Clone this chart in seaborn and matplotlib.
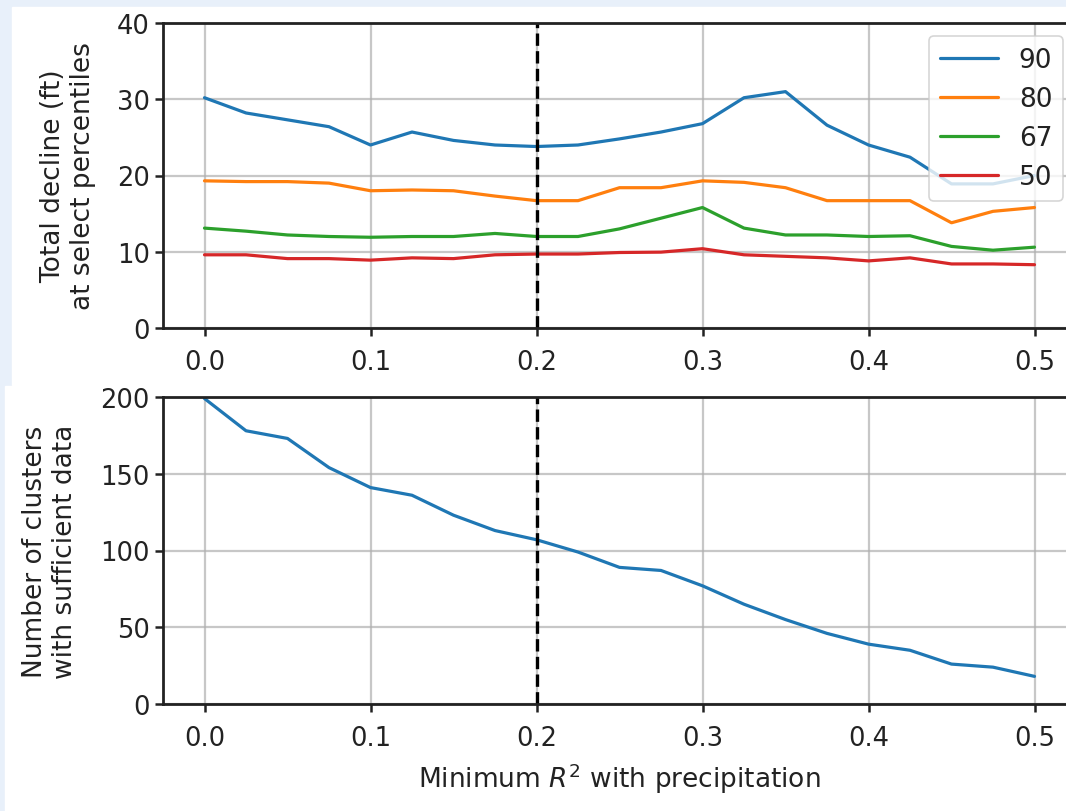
import numpy as np
import matplotlib.pyplot as plt
import seaborn as sns
import pandas as pd
from matplotlib.patches import Rectangle

min_r2 = [0.0, 0.025, 0.05, 0.075, 0.1, 0.125, 0.15, 0.175, 0.2, 0.225, 0.25,
          0.275, 0.3, 0.325, 0.35, 0.375, 0.4, 0.425, 0.45, 0.475, 0.5]

p90 = [30.2, 28.2, 27.3, 26.4, 24.0, 25.7, 24.6, 24.0, 23.8, 24.0, 24.8,
       25.7, 26.8, 30.2, 31.0, 26.6, 24.0, 22.4, 18.9, 18.9, 20.0]
p80 = [19.3, 19.2, 19.2, 19.0, 18.0, 18.1, 18.0, 17.3, 16.7, 16.7, 18.4,
       18.4, 19.3, 19.1, 18.4, 16.7, 16.7, 16.7, 13.8, 15.3, 15.8]
p67 = [13.1, 12.7, 12.2, 12.0, 11.9, 12.0, 12.0, 12.4, 12.0, 12.0, 13.0,
       14.4, 15.8, 13.1, 12.2, 12.2, 12.0, 12.1, 10.7, 10.2, 10.6]
p50 = [9.6, 9.6, 9.1, 9.1, 8.9, 9.2, 9.1, 9.6, 9.7, 9.7, 9.9,
       9.95, 10.4, 9.6, 9.4, 9.2, 8.8, 9.2, 8.4, 8.4, 8.3]
n_clusters = [199, 178, 173, 154, 141, 136, 123, 113, 107, 99, 89,
              87, 77, 65, 55, 46, 39, 35, 26, 24, 18]

percentiles = ["90", "80", "67", "50"]
chosen_r2 = 0.2

df = pd.DataFrame({
    "min_r2": min_r2 * 4,
    "decline": p90 + p80 + p67 + p50,
    "pct": [p for p in percentiles for _ in min_r2],
})
df_n = pd.DataFrame({"min_r2": min_r2, "n": n_clusters})

sns.set_style("ticks")
plt.rcParams["font.family"] = ["DejaVu Sans"]
plt.rcParams["font.size"] = 19
plt.rcParams["text.color"] = "#222222"
plt.rcParams["axes.labelcolor"] = "#222222"

W, H = 1066, 812
fig = plt.figure(figsize=(W / 100, H / 100), dpi=100)
fig.patch.set_facecolor("#e8f0fa")
# two white screenshot panels behind the axes
fig.patches.append(Rectangle((12 / W, 1 - 386 / H), 1, 378 / H,
                             transform=fig.transFigure, color="white", zorder=-5))
fig.patches.append(Rectangle((5 / W, 0), 1, 1 - 387 / H,
                             transform=fig.transFigure, color="white", zorder=-5))

left, right = 163 / W, 1076 / W
ax1 = fig.add_axes([left, 1 - 329 / H, right - left, 305 / H])
ax2 = fig.add_axes([left, 1 - 705 / H, right - left, 307 / H])

palette = ["#1f77b4", "#ff7f0e", "#2ca02c", "#d62728"]
sns.lineplot(data=df, x="min_r2", y="decline", hue="pct", hue_order=percentiles,
             palette=palette, lw=2.3, ax=ax1)
ax1.axvline(chosen_r2, color="black", linestyle="--", lw=2.4)
ax1.set_ylim(0, 40)
ax1.set_yticks([0, 10, 20, 30, 40])
ax1.set_ylabel("Total decline (ft)\nat select percentiles", fontsize=19,
               labelpad=15)
ax1.set_xlabel("")
leg = ax1.legend(loc="upper right", fontsize=19, handlelength=2.2)
leg.get_frame().set_linewidth(1.2)

sns.lineplot(data=df_n, x="min_r2", y="n", color="#1f77b4", lw=2.3, ax=ax2)
ax2.axvline(chosen_r2, color="black", linestyle="--", lw=2.4)
ax2.set_ylim(0, 200)
ax2.set_yticks([0, 50, 100, 150, 200])
ax2.set_ylabel("Number of clusters\nwith sufficient data", fontsize=19,
               labelpad=16)
ax2.set_xlabel("Minimum $R^2$ with precipitation", fontsize=19, labelpad=7)

for ax in (ax1, ax2):
    ax.set_xlim(-0.025, 0.525)
    ax.set_xticks([0.0, 0.1, 0.2, 0.3, 0.4, 0.5])
    ax.set_xticklabels(["0.0", "0.1", "0.2", "0.3", "0.4", "0.5"])
    ax.grid(True, color="#b0b0b0", lw=1.6, alpha=0.7)
    ax.set_facecolor("white")
    for s in ax.spines.values():
        s.set_linewidth(2.0)
        s.set_color("#222222")
    ax.tick_params(width=1.8, length=6, labelsize=18.5, color="#222222",
                   labelcolor="#222222")
    ax.tick_params(axis="x", pad=9)

fig.savefig("out.png", dpi=100, facecolor=fig.get_facecolor())
